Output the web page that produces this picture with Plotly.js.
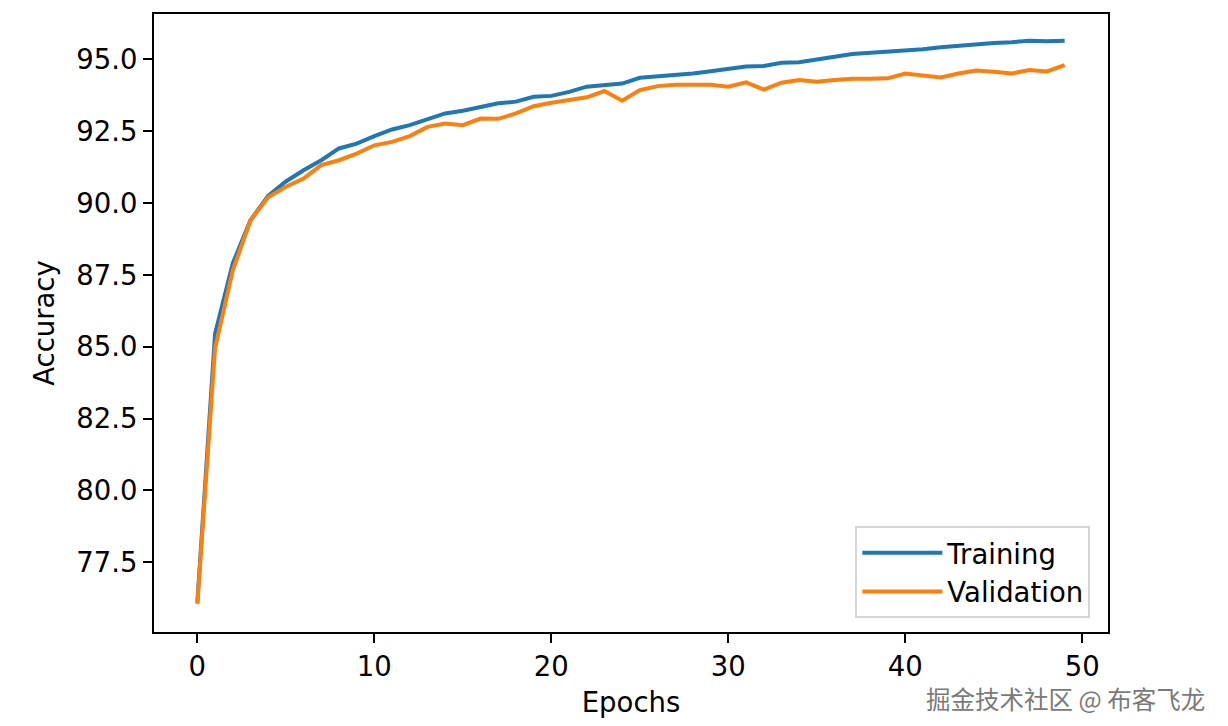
<!DOCTYPE html>
<html>
<head>
<meta charset="utf-8">
<script src="https://cdn.plot.ly/plotly-3.0.1.min.js"></script>
<style>html,body{margin:0;padding:0;background:#fff;}#chart{width:1228px;height:726px;}</style>
</head>
<body>
<div id="chart"></div>
<script>
const epochs = Array.from({length: 50}, (_, i) => i);
const trainingAcc = [76.10, 85.45, 87.90, 89.40, 90.25, 90.75, 91.14, 91.49, 91.90, 92.07,
  92.33, 92.56, 92.71, 92.91, 93.12, 93.21, 93.33, 93.47, 93.53, 93.70,
  93.73, 93.87, 94.05, 94.12, 94.16, 94.36, 94.40, 94.44, 94.51, 94.59,
  94.66, 94.75, 94.77, 94.88, 94.90, 95.01, 95.09, 95.19, 95.23, 95.24,
  95.28, 95.35, 95.42, 95.48, 95.52, 95.57, 95.60, 95.65, 95.63, 95.65];
const validationAcc = [76.05, 84.95, 87.65, 89.40, 90.20, 90.57, 90.85, 91.32, 91.49, 91.72,
  92.01, 92.13, 92.33, 92.65, 92.77, 92.71, 92.94, 92.93, 93.12, 93.37,
  93.49, 93.58, 93.68, 93.90, 93.56, 93.93, 94.07, 94.12, 94.11, 94.12,
  94.05, 94.20, 93.95, 94.19, 94.28, 94.22, 94.28, 94.33, 94.33, 94.34,
  94.51, 94.43, 94.37, 94.51, 94.61, 94.57, 94.51, 94.63, 94.58, 94.80];
const xTicks = [0, 10, 20, 30, 40, 50];
const yTicks = [77.5, 80.0, 82.5, 85.0, 87.5, 90.0, 92.5, 95.0];
const seriesNames = ['Training', 'Validation'];
const watermark = '掘金技术社区 @ 布客飞龙';

const FONT = 'DejaVu Sans, Liberation Sans, sans-serif';
const FS = 27.5;

const traces = [
  {x: epochs, y: trainingAcc, name: seriesNames[0], type: 'scatter', mode: 'lines',
   line: {color: '#1f77b4', width: 4}},
  {x: epochs, y: validationAcc, name: seriesNames[1], type: 'scatter', mode: 'lines',
   line: {color: '#ff7f0e', width: 4}}
];

const axisCommon = {
  showline: true, mirror: true, linecolor: '#000', linewidth: 2,
  ticks: 'outside', ticklen: 9, tickwidth: 2, tickcolor: '#000',
  showgrid: false, zeroline: false,
  tickfont: {family: FONT, size: FS, color: '#000'}
};

const layout = {
  width: 1228, height: 726,
  paper_bgcolor: '#fff', plot_bgcolor: '#fff',
  margin: {l: 154, r: 120, t: 14, b: 94},
  showlegend: true,
  xaxis: Object.assign({}, axisCommon, {
    range: [-2.45, 51.45], tickvals: xTicks, ticktext: xTicks.map(String),
    title: {text: 'Epochs', font: {family: FONT, size: FS, color: '#000'}, standoff: 12}
  }),
  yaxis: Object.assign({}, axisCommon, {
    range: [75.07, 96.58], tickvals: yTicks, ticktext: yTicks.map(v => v.toFixed(1)),
    title: {text: 'Accuracy', font: {family: FONT, size: FS, color: '#000'}, standoff: 14}
  }),
  legend: {
    x: 0.9815, y: 0.022, xanchor: 'right', yanchor: 'bottom',
    bgcolor: 'rgba(255,255,255,0.8)', bordercolor: '#d6d6d6', borderwidth: 2,
    font: {family: FONT, size: FS, color: '#000'},
    itemwidth: 80, tracegroupgap: 0
  },
  annotations: [{
    text: watermark, xref: 'paper', yref: 'paper',
    x: 1 + (1206 - 1108) / 954, y: -(698 - 632) / 618,
    xanchor: 'right', yanchor: 'middle', showarrow: false, borderpad: 0,
    font: {family: 'Noto Sans CJK SC, sans-serif', size: 24.5, color: '#7a7a7a',
           shadow: '1px 1px 0px #fff, -1px -1px 0px #fff, 1px -1px 0px #fff, -1px 1px 0px #fff'}
  }]
};

Plotly.newPlot('chart', traces, layout, {staticPlot: true, displayModeBar: false});
</script>
</body>
</html>
